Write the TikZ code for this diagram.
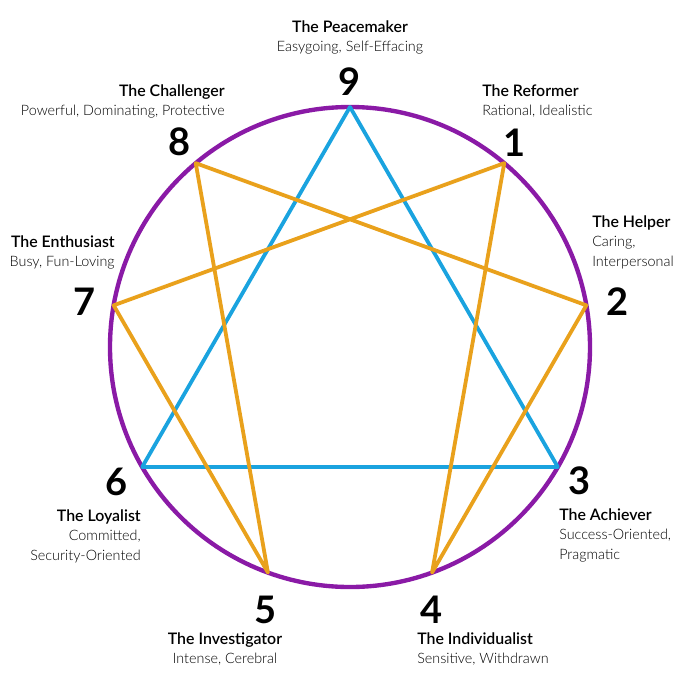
\documentclass[tikz,border=0pt]{standalone}
\usepackage{fontspec}
\setmainfont{Lato}
\newfontfamily\lightfont{Lato Light}
\usetikzlibrary{positioning,calc}
\definecolor{ringpurple}{HTML}{8A1AA6}
\definecolor{triblue}{HTML}{1AA3DF}
\definecolor{hexorange}{HTML}{E9A11C}
\newcommand\typename[1]{{\bfseries\fontsize{11.3}{14}\selectfont #1}}
\begin{document}
\begin{tikzpicture}[x=0.025cm,y=-0.025cm,
    num/.style={font=\bfseries\fontsize{27}{27}\selectfont,inner sep=0},
    lbl/.style={font=\lightfont\fontsize{10.2}{14}\selectfont,inner sep=0},
    tri/.style={draw=triblue,line width=2.7pt,line join=round},
    hex/.style={draw=hexorange,line width=2.7pt,line join=round}]
    \useasboundingbox (0,0) rectangle (700,700);
    % points on the ring, 9 at the top, clockwise
    \foreach \n in {1,...,9}
        \coordinate (p\n) at ({350+240*cos(90-40*\n)},{347-240*sin(90-40*\n)});
    \draw[ringpurple,line width=3.1pt] (350,347) circle (240);
    \draw[tri] (p9) -- (p3) -- (p6) -- cycle;
    \draw[hex] (p1) -- (p4) -- (p2) -- (p8) -- (p5) -- (p7) -- cycle;
    % numbers
    \node[num] (n9) at (350,82) {9};
    \node[num] (n1) at (515,143) {1};
    \node[num] (n2) at (618,302) {2};
    \node[num] (n3) at (580,481) {3};
    \node[num] (n4) at (432,610) {4};
    \node[num] (n5) at (266,610) {5};
    \node[num] (n6) at (117,482) {6};
    \node[num] (n7) at (85,302) {7};
    \node[num] (n8) at (180,142) {8};
    % names and traits
    \node[lbl,align=center,anchor=north] (l9) at (350,20) {\typename{The Peacemaker}\\Easygoing, Self-Effacing};
    \node[lbl,align=left,anchor=north west] (l1) at (482,84) {\typename{The Reformer}\\Rational, Idealistic};
    \node[lbl,align=left,anchor=north west] (l2) at (592,215) {\typename{The Helper}\\Caring,\\Interpersonal};
    \node[lbl,align=left,anchor=north west] (l3) at (559,508) {\typename{The Achiever}\\Success-Oriented,\\Pragmatic};
    \node[lbl,align=left,anchor=north west] (l4) at (417,632) {\typename{The Individualist}\\Sensitive, Withdrawn};
    \node[lbl,align=center,anchor=north] (l5) at (225,632) {\typename{The Investigator}\\Intense, Cerebral};
    \node[lbl,align=right,anchor=north east] (l6) at (141,509) {\typename{The Loyalist}\\Committed,\\Security-Oriented};
    \node[lbl,align=right,anchor=north east] (l7) at (115,235) {\typename{The Enthusiast}\\Busy, Fun-Loving};
    \node[lbl,align=right,anchor=north east] (l8) at (225,84) {\typename{The Challenger}\\Powerful, Dominating, Protective};
\end{tikzpicture}
\end{document}
